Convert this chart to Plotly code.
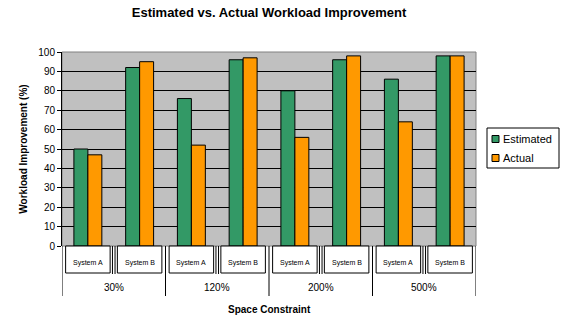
import plotly.graph_objects as go

constraints = ["30%", "120%", "200%", "500%"]
systems = ["System A", "System B"]
estimated = [50, 92, 76, 96, 80, 96, 86, 98]
actual = [47, 95, 52, 97, 56, 98, 64, 98]
series_names = ["Estimated", "Actual"]
series_colors = ["#339966", "#FF9900"]

cats = [f"{c}|{s}" for c in constraints for s in systems]
xpos = list(range(len(cats)))

FONT = "Liberation Sans, Arial, sans-serif"
L, R, T, B = 62, 88, 52, 75
W, H = 564, 321
ph = H - T - B

def py(px):
    # pixel offset below plot bottom -> paper coords
    return -px / ph

fig = go.Figure()
for name, vals, col in zip(series_names, [estimated, actual], series_colors):
    fig.add_trace(go.Bar(x=xpos, y=vals, name=name, showlegend=False,
                         marker=dict(color=col, line=dict(color="#000000", width=1))))

shapes = []
annotations = []
for i, c in enumerate(cats):
    sysname = c.split("|")[1]
    shapes.append(dict(type="rect", xref="x", yref="paper", x0=i - 0.43, x1=i + 0.43,
                       y0=py(27), y1=0, line=dict(color="#000000", width=1), fillcolor="white"))
    annotations.append(dict(text=sysname, x=i, y=py(17), xref="x", yref="paper",
                            showarrow=False, font=dict(family=FONT, size=7, color="#000"),
                            yanchor="middle"))
for i in range(len(cats) - 1):
    if i % 2 == 0:
        for d in (-0.025, 0.025):
            shapes.append(dict(type="line", xref="x", yref="paper", x0=i + 0.5 + d, x1=i + 0.5 + d,
                               y0=py(28), y1=0, line=dict(color="#000", width=1)))
for g in range(len(constraints) + 1):
    xx = -0.5 + 2 * g
    shapes.append(dict(type="line", xref="x", yref="paper", x0=xx, x1=xx,
                       y0=py(50), y1=0, line=dict(color="#000", width=1)))
for g, c in enumerate(constraints):
    annotations.append(dict(text=c, x=2 * g + 0.5, y=py(41), xref="x", yref="paper",
                            showarrow=False, font=dict(family=FONT, size=10, color="#000"),
                            yanchor="middle"))
annotations.append(dict(text="<b>Space Constraint</b>", x=3.5, y=py(63), xref="x", yref="paper",
                        showarrow=False, font=dict(family=FONT, size=10, color="#000"),
                        yanchor="middle"))
# plot border top/right
shapes.append(dict(type="rect", xref="paper", yref="paper", x0=0, x1=1, y0=0, y1=1,
                   line=dict(color="#808080", width=1), layer="below"))

# manual legend box (container pixel coords -> fractions)
def cx(px):
    return px / W

def cy(px):
    return 1 - px / H

leg_shapes = [dict(type="rect", xref="paper", yref="paper",
                   x0=(487 - L) / (W - L - R), x1=(559 - L) / (W - L - R),
                   y0=(H - B - 168) / ph, y1=(H - B - 128) / ph,
                   line=dict(color="#000", width=1), fillcolor="white")]
for k, (name, col) in enumerate(zip(series_names, series_colors)):
    yc = 139 + 19 * k
    leg_shapes.append(dict(type="rect", xref="paper", yref="paper",
                           x0=(492 - L) / (W - L - R), x1=(499 - L) / (W - L - R),
                           y0=(H - B - yc - 3.5) / ph, y1=(H - B - yc + 3.5) / ph,
                           line=dict(color="#000", width=1), fillcolor=col))
    annotations.append(dict(text=name, xref="paper", yref="paper",
                            x=(501 - L) / (W - L - R), y=(H - B - yc) / ph,
                            xanchor="left", yanchor="middle", showarrow=False,
                            font=dict(family=FONT, size=11, color="#000")))
shapes += leg_shapes

fig.update_layout(
    width=W, height=H,
    margin=dict(l=L, r=R, t=T, b=B),
    paper_bgcolor="white",
    plot_bgcolor="#C0C0C0",
    barmode="group",
    bargap=0.46,
    bargroupgap=0,
    showlegend=False,
    font=dict(family=FONT, size=10, color="#000"),
    title=dict(text="<b>Estimated vs. Actual Workload Improvement</b>", x=0.5, xref="paper",
               xanchor="center", y=1 - 12 / H, yanchor="middle",
               font=dict(family=FONT, size=13, color="#000")),
    xaxis=dict(range=[-0.5, 7.5], showticklabels=False, showgrid=False, zeroline=False,
               ticks="", fixedrange=True),
    yaxis=dict(range=[0, 100], dtick=10, showgrid=True, gridcolor="#000000", gridwidth=1,
               zeroline=False, ticks="outside", ticklen=4, tickcolor="#000",
               showline=True, linecolor="#000", linewidth=1,
               tickfont=dict(family=FONT, size=10, color="#000"),
               title=dict(text="<b>Workload Improvement (%)</b>", standoff=8,
                          font=dict(family=FONT, size=10, color="#000"))),
    shapes=shapes,
    annotations=annotations,
)

fig.write_html("out.html")
